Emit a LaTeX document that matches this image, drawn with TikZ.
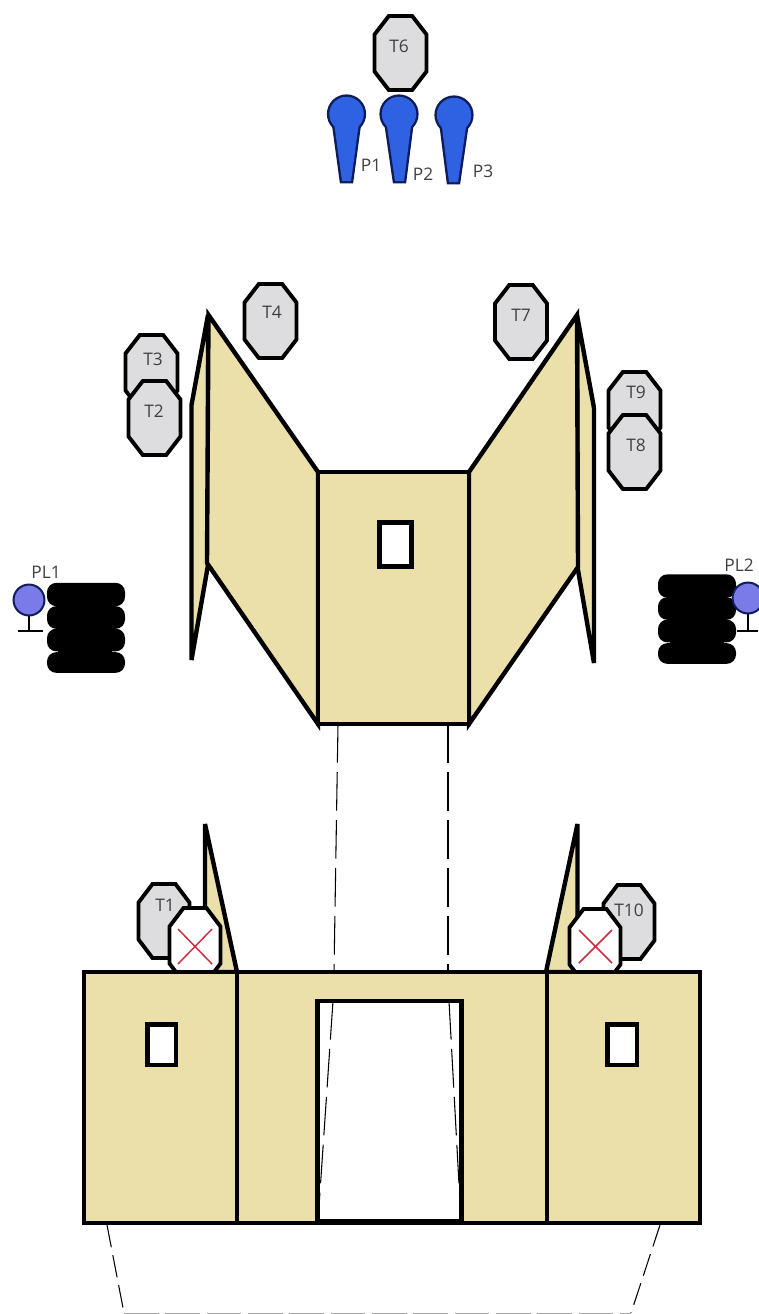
\documentclass[tikz,border=0pt]{standalone}
\usepackage{fontspec}
\setmainfont{Open Sans}
\definecolor{wallc}{HTML}{EBDFAA}
\definecolor{targetc}{HTML}{DDDDDF}
\definecolor{navyc}{HTML}{0E1C5A}
\definecolor{bluec}{HTML}{2E62E2}
\definecolor{popperc}{HTML}{7A7AE8}
\definecolor{crossc}{HTML}{C8303F}
\definecolor{labelc}{HTML}{404040}
\tikzset{
  wall/.style={draw=black,fill=wallc,line width=3.3pt,line join=miter,miter limit=6},
  hole/.style={draw=black,fill=white,line width=3.3pt},
  octa/.style={draw=black,line width=2.9pt,line join=miter},
  lbl/.style={text=labelc,font=\fontsize{13}{15}\selectfont,inner sep=0pt},
  fault/.style={draw=black,line width=0.8pt,dash pattern=on 29pt off 7pt},
  tire/.style={fill=black,rounded corners=7pt,inner sep=0pt,minimum width=58.5pt},
  xline/.style={draw=crossc,line width=1.1pt},
}
% centre x, centre y, half width, half height, fill
\newcommand{\octshape}[5]{%
  \path[octa,fill=#5]
    ({#1-#3*0.45},{#2-#4}) -- ({#1+#3*0.45},{#2-#4}) -- ({#1+#3},{#2-#4*0.5}) -- ({#1+#3},{#2+#4*0.5})
    -- ({#1+#3*0.45},{#2+#4}) -- ({#1-#3*0.45},{#2+#4}) -- ({#1-#3},{#2+#4*0.5}) -- ({#1-#3},{#2-#4*0.5}) -- cycle;}
% centre x, centre y, bottom centre x, bottom y
\newcommand{\pshape}[4]{%
  \path[draw=navyc,line width=3.6pt,line join=miter] (#1,#2) circle[radius=12.9pt];
  \path[draw=navyc,line width=3.6pt,line join=miter] ({#1-12},{#2+12}) -- ({#3-4.5},#4) -- ({#3+4.5},#4) -- ({#1+12},{#2+12}) -- cycle;
  \fill[bluec] (#1,#2) circle[radius=12.9pt];
  \fill[bluec] ({#1-12},{#2+12}) -- ({#3-4.5},#4) -- ({#3+4.5},#4) -- ({#1+12},{#2+12}) -- cycle;}
\begin{document}
\begin{tikzpicture}[x=0.75pt,y=-0.75pt]
\useasboundingbox[fill=white] (0,0) rectangle (758,1314);

% poppers and top target
\octshape{400.5}{53}{26}{37}{targetc}
\node[lbl] (t6) at (399,46) {T6};
\pshape{346.5}{114}{346.5}{181}
\pshape{399}{114}{399.5}{181}
\pshape{454}{115}{453.5}{182}
\node[lbl] (p1) at (371,165) {P1};
\node[lbl] (p2) at (423,174) {P2};
\node[lbl] (p3) at (483,171) {P3};

% targets around upper walls
\octshape{270.5}{321}{26}{37}{targetc}
\node[lbl] (t4) at (272,312) {T4};
\octshape{151.5}{372}{26}{37}{targetc}
\node[lbl] (t3) at (153,359) {T3};
\octshape{154.5}{418}{26}{37}{targetc}
\node[lbl] (t2) at (154,411) {T2};
\octshape{521}{322}{26}{37}{targetc}
\node[lbl] (t7) at (521,315) {T7};
\octshape{634.5}{409}{26}{37}{targetc}
\node[lbl] (t9) at (636,392) {T9};
\octshape{634.5}{452}{26}{37}{targetc}
\node[lbl] (t8) at (636,445) {T8};

% upper wall group
\path[wall] (208,315) -- (191.5,405) -- (191.5,660) -- (208,565) -- cycle;
\path[wall] (577,315) -- (594,408) -- (594,663) -- (577.5,567) -- cycle;
\path[wall] (318,472) -- (208.5,315) -- (207,563) -- (318,724) -- cycle;
\path[wall] (469,472) -- (577,315) -- (578,567) -- (469,724) -- cycle;
\path[wall] (318,472) rectangle (469,724);
\path[hole] (379.5,522.5) rectangle (411.5,566.5);

% barricades and plates, left
\node[tire,minimum height=17.5pt] (tl1) at (86,594.5) {};
\node[tire,minimum height=17pt] (tl2) at (86,617.5) {};
\node[tire,minimum height=17pt] (tl3) at (86,640) {};
\node[tire,minimum height=15.5pt] (tl4) at (86,662.5) {};
\fill[black] (58,584) rectangle (112,672);
\draw[navyc,line width=1.5pt,fill=popperc] (29,600) circle[radius=11.6pt];
\draw[black,line width=1.2pt] (29,616) -- (29,631) (18,631) -- (43,631);
\node[lbl] (pl1) at (46,572) {PL1};

% barricades and plates, right
\node[tire,minimum height=17.5pt] (tr1) at (697,586) {};
\node[tire,minimum height=17pt] (tr2) at (697,608.5) {};
\node[tire,minimum height=17pt] (tr3) at (697,631) {};
\node[tire,minimum height=15.5pt] (tr4) at (697,653.5) {};
\fill[black] (670,575) rectangle (724,663);
\draw[navyc,line width=1.5pt,fill=popperc] (748,598) circle[radius=11.6pt];
\draw[black,line width=1.2pt] (748,614) -- (748,631) (737,631) -- (758,631);
\node[lbl] (pl2) at (739,565) {PL2};

% fault lines between wall groups
\coordinate (fa) at (338,724);
\coordinate (fb) at (334,972);
\coordinate (fc) at (448,724);
\coordinate (fd) at (448,972);
\draw[fault] (fa) -- (fb);
\draw[fault] (fc) -- (fd);

% lower side walls and targets
\path[wall] (205,824) -- (205,972) -- (237,972) -- cycle;
\path[wall] (577.5,824) -- (577.5,972) -- (546,972) -- cycle;
\octshape{164}{921}{25.5}{37}{targetc}
\node[lbl] (t1) at (165,905) {T1};
\octshape{629}{922}{25.5}{37}{targetc}
\node[lbl] (t10) at (629,910) {T10};
\octshape{195}{945}{25.5}{37}{white}
\octshape{595}{946}{25.5}{37}{white}
\draw[xline] (178,929) -- (212,964) (178,964) -- (212,929);
\draw[xline] (579,930) -- (612,963) (579,963) -- (612,930);

% lower wall
\path[wall] (84,972) rectangle (700,1223);
\draw[black,line width=3.3pt] (237,972) -- (237,1223) (547,972) -- (547,1223);
\path[hole] (317.5,1001) rectangle (461.5,1221);
\path[hole] (147.5,1024.5) rectangle (176,1065);
\path[hole] (607.5,1024.5) rectangle (637,1065);

% ground lines
\coordinate (ga) at (333,1001);
\coordinate (gb) at (318,1221);
\coordinate (gc) at (449,1001);
\coordinate (gd) at (461,1221);
\coordinate (ge) at (107,1225);
\coordinate (gf) at (124,1313);
\coordinate (gg) at (660,1225);
\coordinate (gh) at (631,1313);
\draw[fault] (ga) -- (gb);
\draw[fault] (gc) -- (gd);
\draw[fault,dash pattern=on 17pt off 6pt] (ge) -- (gf);
\draw[fault,dash pattern=on 17pt off 6pt] (gg) -- (gh);
\draw[draw=black!35,line width=0.6pt,dash pattern=on 26pt off 5pt] (gf) -- (gh);
\end{tikzpicture}
\end{document}
